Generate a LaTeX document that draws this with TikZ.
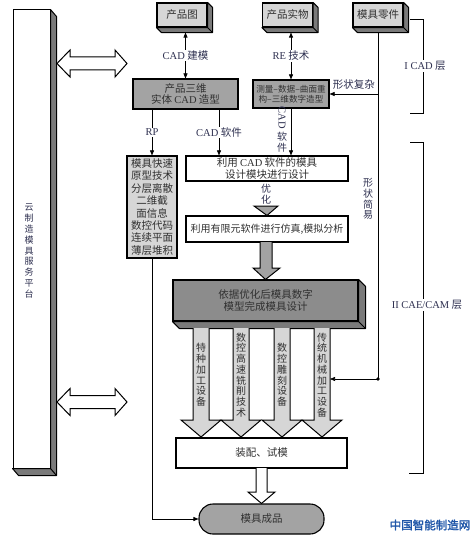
\documentclass[tikz,border=0pt]{standalone}
\usepackage{fontspec}
\usepackage{graphicx}
\setmainfont{Noto Sans CJK SC}
\newfontfamily\latinfont{Liberation Serif}
\newfontfamily\wmfont[FakeBold=2]{Noto Sans CJK SC}
\usetikzlibrary{calc, arrows.meta, positioning}

\definecolor{lightbox}{HTML}{D6D6D6}
\definecolor{midbox}{HTML}{A3A3A3}
\definecolor{darkbox}{HTML}{8C8C8C}
\definecolor{sidebox}{HTML}{7A7A7A}
\definecolor{boxtext}{HTML}{303030}
\definecolor{labelc}{HTML}{2E3050}
\definecolor{wmblue}{HTML}{1F56A8}

\tikzset{
  box/.style={draw, line width=1.1pt, align=center, inner sep=1pt, text=boxtext,
    font=\fontsize{10.5}{11.5}\selectfont},
  topbox/.style={box, fill=lightbox, minimum width=50pt, minimum height=24pt},
  lab/.style={text=labelc, inner sep=1pt, align=center, font=\fontsize{10.5}{11.5}\selectfont},
  conn/.style={semithick, -{Triangle[length=5pt,width=4pt]}},
  dconn/.style={semithick, {Triangle[length=5pt,width=4pt]}-{Triangle[length=5pt,width=4pt]}},
  fat/.style={draw, line width=1pt, fill=lightbox},
}

% side faces of a raised box: node, offset
\newcommand{\boxside}[2]{%
  \filldraw[fill=sidebox, line width=1pt, line join=round] (#1.north east) -- ++(#2)
    -- ($(#1.south east)+(#2)$) -- ($(#1.south west)+(#2)$) -- (#1.south west) -- (#1.south east) -- cycle;
  \draw[line width=1pt] (#1.south east) -- ++(#2);}

\begin{document}
\begin{tikzpicture}[x=1pt, y=-1pt]
  \useasboundingbox (0,0) rectangle (475,540);

  % platform
  \node[draw, line width=1pt, fill=white, minimum width=37pt, minimum height=458pt] (platform) at (31.5,239) {};
  \boxside{platform}{6,7}
  \node[lab, font=\fontsize{9}{10.9}\selectfont] (pftext) at (29,251) {云\\制\\造\\模\\具\\服\\务\\平\\台};
  \foreach \y in {63.5,402}
    \filldraw[fill=white, line width=1pt] (57,\y) -- (70,\y-13.5) -- (70,\y-6.5) -- (115,\y-6.5) -- (115,\y-13.5)
      -- (127,\y) -- (115,\y+13.5) -- (115,\y+6.5) -- (70,\y+6.5) -- (70,\y+13.5) -- cycle;

  % I CAD
  \node[topbox] (tu) at (182,15) {产品图};
  \node[topbox] (shiwu) at (287.5,15) {产品实物};
  \node[topbox] (lingjian) at (378,15) {模具零件};
  \foreach \n in {tu, shiwu, lingjian} \boxside{\n}{5,5};
  \coordinate (tubot) at ($(tu.south)+(0,5)$);
  \coordinate (swbot) at ($(shiwu.south)+(0,5)$);
  \coordinate (ljbot) at ($(lingjian.south)+(0,5)$);

  \node[box, fill=midbox, minimum width=105pt, minimum height=30pt] (sanwei) at (185.5,94) {产品三维\\实体 {\latinfont CAD} 造型};
  \node[box, fill=midbox, minimum width=76pt, minimum height=28pt, font=\fontsize{8.6}{10}\selectfont] (celiang) at (291,94) {测量–数据–曲面重\\构–三维数字造型};

  % II CAE/CAM
  \node[box, fill=lightbox, minimum width=50pt, minimum height=102pt, font=\fontsize{10.5}{12.4}\selectfont] (kuaisu) at (152,207)
    {模具快速\\原型技术\\分层离散\\二维截\\面信息\\数控代码\\连续平面\\薄层堆积};
  \node[box, minimum width=162pt, minimum height=25pt] (sheji) at (267,168.5) {利用 {\latinfont CAD} 软件的模具\\设计模块进行设计};
  \node[lab, font=\fontsize{10}{10.5}\selectfont] (youhua) at (266,194) {优\\化};
  \node[box, minimum width=162pt, minimum height=26pt, font=\fontsize{10}{12}\selectfont] (fangzhen) at (267,229) {利用有限元软件进行仿真,模拟分析};
  \node[box, fill=darkbox, minimum width=185pt, minimum height=41pt] (yiju) at (265.5,300.5) {依据优化后模具数字\\模型完成模具设计};
  \boxside{yiju}{7,7}
  \node[box, minimum width=171pt, minimum height=30pt] (zhuangpei) at (261.5,453) {装配、试模};
  \node[box, fill=midbox, rounded corners=14pt, minimum width=125pt, minimum height=30pt] (chengpin) at (261.5,519) {模具成品};

  \filldraw[fill=midbox, line width=1pt] (254,206) -- (278,206) -- (fangzhen.north) -- cycle;
  \filldraw[fill=midbox, line width=1pt] (260,242) -- (260,268) -- (253,268) -- (yiju.north) -- (280,268) -- (272,268) -- (272,242);
  \foreach \x/\txt [count=\i] in {201/{特\\种\\加\\工\\设\\备}, 241/{数\\控\\高\\速\\铣\\削\\技\\术},
      282/{数\\控\\雕\\刻\\设\\备}, 322/{传\\统\\机\\械\\加\\工\\设\\备}} {
    \filldraw[fat] (\x-8,328) -- (\x-8,420) -- (\x-20,420) -- (\x,437) -- (\x+20,420) -- (\x+8,420) -- (\x+8,328);
    \node[lab, text=boxtext, inner sep=0pt, font=\fontsize{10}{10.75}\selectfont] (eq\i) at (\x,375) {\txt};
  }
  \coordinate (a4) at (330,379);
  \filldraw[fill=white, line width=1pt] (256,468) -- (256,492) -- (248,492) -- (chengpin.north) -- (275,492) -- (267,492) -- (267,468);

  % connectors
  \draw[dconn] (sanwei.north) -- (sanwei.north |- tubot) node[lab, midway, fill=white] {{\latinfont CAD} 建模};
  \draw[dconn] (celiang.north) -- (celiang.north |- swbot) node[lab, midway, fill=white] {{\latinfont RE} 技术};
  \draw[conn] (sanwei.south -| kuaisu.north) -- (kuaisu.north) node[lab, midway, fill=white] {\latinfont RP};
  \draw[conn] ([xshift=33.5pt]sanwei.south) -- ([xshift=33.5pt]sanwei.south |- sheji.north)
    node[lab, midway, fill=white] {{\latinfont CAD} 软件};
  \draw[conn] (celiang.south) -- (celiang.south |- sheji.north);
  \node[lab, rotate=-90, inner sep=0pt] (cadv) at (282,118) {\latinfont CAD};
  \node[lab, inner sep=0pt, font=\fontsize{10}{10.5}\selectfont] (rjv) at (282,142) {软\\件};
  \draw[semithick] (ljbot) -- (ljbot |- a4);
  \draw[conn] (ljbot |- celiang.east) -- (celiang.east) node[lab, midway, above=3pt] {形状复杂};
  \fill (ljbot |- a4) circle (1.8pt);
  \draw[conn] (ljbot |- a4) -- (a4);
  \node[lab, font=\fontsize{10}{10.8}\selectfont] (jianyi) at (368,199) {形\\状\\简\\易};
  \draw[conn] (kuaisu.south) |- (chengpin.west);

  % layers
  \draw[semithick] (410,19) -- (423,19) -- (423,113) -- (410,113);
  \draw[semithick] (410,142) -- (423,142) -- (423,473) -- (409,473);
  \node[lab, fill=white] (layer1) at (425,66) {{\latinfont I CAD} 层};
  \node[lab, fill=white] (layer2) at (427,305) {{\latinfont II CAE/CAM} 层};

  \node[text=wmblue, font=\wmfont\fontsize{11.5}{12}\selectfont] (wm) at (430,525) {中国智能制造网};
\end{tikzpicture}
\end{document}
